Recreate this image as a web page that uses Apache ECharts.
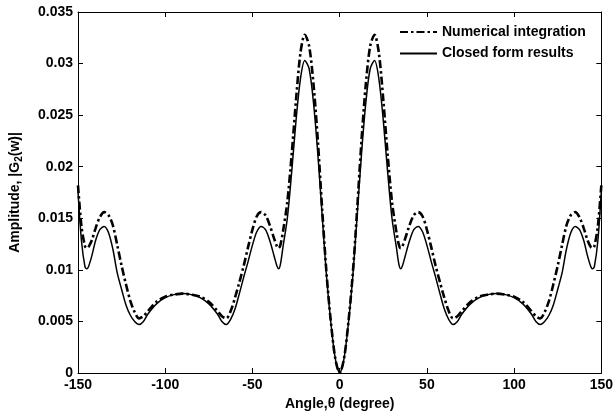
<!DOCTYPE html>
<html>
<head>
<meta charset="utf-8">
<script src="https://cdn.jsdelivr.net/npm/echarts@6/dist/echarts.min.js"></script>
<style>html,body{margin:0;padding:0;background:#fff}#c{width:616px;height:419px}</style>
</head>
<body>
<div id="c"></div>
<script>
var angles = [-150,-148,-146,-145,-144,-142,-140,-137.5,-135,-132.5,-130,-127.5,-125,-122.5,-120,-117.5,-115,-112.5,-110,-105,-100,-95,-90,-85,-80,-75,-70,-67.5,-65,-62.5,-60,-57.5,-55,-52.5,-50,-47.5,-45,-42.5,-40,-37.5,-36,-35,-34,-32.5,-30,-27.5,-25,-22.5,-20,-17.5,-15,-12.5,-10,-7.5,-5,-2.5,0,
  2.5,5,7.5,10,12.5,15,17.5,20,22.5,25,27.5,30,32.5,34,35,36,37.5,40,42.5,45,47.5,50,52.5,55,57.5,60,62.5,65,67.5,70,75,80,85,90,95,100,105,110,112.5,115,117.5,120,122.5,125,127.5,130,132.5,135,137.5,140,142,144,145,146,148,150];

var numerical = [0.0182,0.0142,0.0123,0.0121,0.0122,0.0129,0.0140,0.0151,0.0156,0.0153,0.0143,0.0124,0.0104,0.0086,0.0070,0.0059,0.0053,0.0055,0.0060,0.0069,0.0074,0.0076,0.0077,0.0076,0.0074,0.0069,0.0060,0.0055,0.0053,0.0060,0.0073,0.0088,0.0104,0.0122,0.0139,0.0152,0.0156,0.0153,0.0143,0.0130,0.0123,0.0121,0.0124,0.0137,0.0166,0.0212,0.0265,0.0310,0.0328,0.0317,0.0280,0.0225,0.0158,0.0096,0.0049,0.0014,0,
  0.0014,0.0049,0.0096,0.0158,0.0225,0.0280,0.0317,0.0328,0.0310,0.0265,0.0212,0.0166,0.0137,0.0124,0.0121,0.0123,0.0130,0.0143,0.0153,0.0156,0.0152,0.0139,0.0122,0.0104,0.0088,0.0073,0.0060,0.0053,0.0055,0.0060,0.0069,0.0074,0.0076,0.0077,0.0076,0.0074,0.0069,0.0060,0.0055,0.0053,0.0059,0.0070,0.0086,0.0104,0.0124,0.0143,0.0153,0.0156,0.0151,0.0140,0.0129,0.0122,0.0121,0.0123,0.0142,0.0182];

var closedForm = [0.0176,0.0128,0.0103,0.0101,0.0103,0.0114,0.0128,0.0139,0.0142,0.0136,0.0120,0.0097,0.0081,0.0066,0.0056,0.0050,0.0047,0.0050,0.0057,0.0067,0.0073,0.0076,0.0077,0.0076,0.0073,0.0067,0.0057,0.0050,0.0047,0.0052,0.0062,0.0077,0.0093,0.0108,0.0124,0.0137,0.0142,0.0139,0.0128,0.0113,0.0104,0.0101,0.0105,0.0122,0.0150,0.0195,0.0245,0.0285,0.0303,0.0295,0.0262,0.0212,0.0152,0.0093,0.0048,0.0014,0,
  0.0014,0.0048,0.0093,0.0152,0.0212,0.0262,0.0295,0.0303,0.0285,0.0245,0.0195,0.0150,0.0122,0.0105,0.0101,0.0104,0.0113,0.0128,0.0139,0.0142,0.0137,0.0124,0.0108,0.0093,0.0077,0.0062,0.0052,0.0047,0.0050,0.0057,0.0067,0.0073,0.0076,0.0077,0.0076,0.0073,0.0067,0.0057,0.0050,0.0047,0.0050,0.0056,0.0066,0.0081,0.0097,0.0120,0.0136,0.0142,0.0139,0.0128,0.0114,0.0103,0.0101,0.0103,0.0128,0.0176];

var seriesNames = ['Numerical integration', 'Closed form results'];
var xTicks = [-150, 150, 50];
var yTicks = [0, 0.035, 0.005];

function pairs(xs, ys) { return xs.map(function (x, i) { return [x, ys[i]]; }); }

var FONT = 'Arial, "Liberation Sans", sans-serif';
var lbl = { color: '#000', fontFamily: FONT, fontWeight: 'bold', fontSize: 14 };
var axLine = { show: true, onZero: false, lineStyle: { color: '#000', width: 1 } };
var tick = { show: true, inside: true, length: 5, lineStyle: { color: '#000', width: 1 } };

var chart = echarts.init(document.getElementById('c'), null, { renderer: 'canvas' });
chart.setOption({
  animation: false,
  backgroundColor: '#fff',
  grid: { left: 76, right: 13, top: 12, bottom: 46, containLabel: false },
  legend: {
    orient: 'vertical', left: 394, top: 20,
    itemWidth: 37, itemHeight: 14, itemGap: 7.5,
    itemStyle: { opacity: 0 },
    textStyle: { color: '#000', fontFamily: FONT, fontWeight: 'bold', fontSize: 14 },
    data: seriesNames
  },
  xAxis: [{
    type: 'value', min: xTicks[0], max: xTicks[1], interval: xTicks[2],
    position: 'bottom',
    name: 'Angle,θ (degree)', nameLocation: 'middle', nameGap: 20,
    nameTextStyle: lbl,
    axisLine: axLine, axisTick: tick, splitLine: { show: false },
    axisLabel: Object.assign({ margin: 5 }, lbl)
  }, {
    type: 'value', min: xTicks[0], max: xTicks[1], interval: xTicks[2],
    position: 'top',
    axisLine: axLine, axisTick: tick, splitLine: { show: false },
    axisLabel: { show: false }
  }],
  yAxis: [{
    type: 'value', min: yTicks[0], max: yTicks[1], interval: yTicks[2],
    position: 'left',
    name: '{n|Amplitude, |G}{s|2}{n|(w)|}', nameLocation: 'middle', nameGap: 54, nameRotate: 90,
    nameTextStyle: {
      rich: {
        n: { color: '#000', fontFamily: FONT, fontWeight: 'bold', fontSize: 14 },
        s: { color: '#000', fontFamily: FONT, fontWeight: 'bold', fontSize: 10, verticalAlign: 'bottom', padding: [8, 0, 0, 0] }
      }
    },
    axisLine: axLine, axisTick: tick, splitLine: { show: false },
    axisLabel: Object.assign({ margin: 5 }, lbl)
  }, {
    type: 'value', min: yTicks[0], max: yTicks[1], interval: yTicks[2],
    position: 'right',
    axisLine: axLine, axisTick: tick, splitLine: { show: false },
    axisLabel: { show: false }
  }],
  series: [{
    name: seriesNames[0], type: 'line', xAxisIndex: 0, yAxisIndex: 0,
    data: pairs(angles, numerical), symbol: 'none', smooth: 0.3,
    lineStyle: { color: '#000', width: 2.6, type: [8, 3, 2.5, 3] },
    itemStyle: { color: '#000' }
  }, {
    name: seriesNames[1], type: 'line', xAxisIndex: 0, yAxisIndex: 0,
    data: pairs(angles, closedForm), symbol: 'none', smooth: 0.3,
    lineStyle: { color: '#000', width: 1.5, type: 'solid' },
    itemStyle: { color: '#000' }
  }]
});
</script>
</body>
</html>
